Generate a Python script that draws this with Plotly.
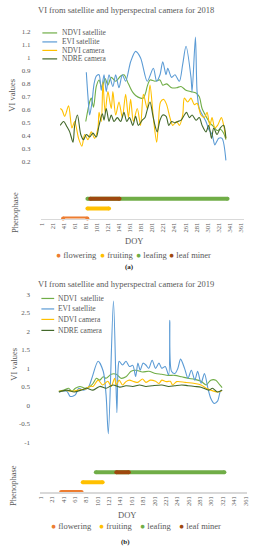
import plotly.graph_objects as go

# ---------------- data: 2018 ----------------
evi_sat_2018_doy = [82, 85, 88, 92, 96, 100, 105, 109, 114, 118, 123, 130, 135, 141, 147, 153, 162, 171, 180, 192, 203, 209, 215, 220, 226, 229, 236, 242, 250, 256, 262, 271, 273, 279, 282, 286, 298, 303, 309, 314, 318, 321, 327, 334]
evi_sat_2018 = [0.89, 0.70, 0.56, 0.65, 0.80, 0.86, 0.87, 0.75, 0.87, 0.74, 0.87, 0.78, 0.87, 0.77, 0.87, 0.82, 0.97, 1.05, 1.00, 0.82, 0.92, 0.82, 0.87, 0.97, 0.87, 0.92, 0.85, 0.87, 0.82, 0.95, 1.09, 0.85, 0.74, 1.16, 0.74, 0.61, 0.51, 0.45, 0.41, 0.33, 0.36, 0.38, 0.38, 0.21]

ndvi_sat_2018_doy = [81, 88, 91, 95, 100, 105, 110, 116, 121, 127, 135, 144, 150, 158, 165, 171, 180, 185, 189, 192, 197, 206, 215, 220, 227, 236, 245, 253, 262, 271, 280, 286, 291, 298, 305, 312, 318, 324, 330, 334]
ndvi_sat_2018 = [0.51, 0.66, 0.69, 0.62, 0.78, 0.83, 0.77, 0.84, 0.79, 0.85, 0.82, 0.86, 0.87, 0.80, 0.74, 0.71, 0.69, 0.69, 0.73, 0.78, 0.83, 0.82, 0.83, 0.79, 0.80, 0.77, 0.77, 0.78, 0.75, 0.74, 0.73, 0.70, 0.61, 0.55, 0.50, 0.47, 0.44, 0.45, 0.42, 0.37]

ndvi_cam_2018_doy = [35, 38, 43, 50, 56, 61, 68, 74, 79, 85, 91, 97, 103, 105, 109, 112, 116, 121, 127, 130, 135, 141, 147, 153, 158, 162, 167, 174, 180, 185, 192, 197, 203, 209, 212, 216, 222, 227, 233, 238, 245, 250, 256, 259, 265, 271, 277, 282, 289, 295, 300, 305, 309, 314, 319, 326, 330, 334]
ndvi_cam_2018 = [0.61, 0.60, 0.55, 0.63, 0.46, 0.51, 0.38, 0.32, 0.41, 0.37, 0.43, 0.38, 0.46, 0.58, 0.51, 0.81, 0.58, 0.74, 0.61, 0.74, 0.56, 0.66, 0.54, 0.72, 0.54, 0.68, 0.51, 0.61, 0.48, 0.72, 0.61, 0.79, 0.54, 0.35, 0.48, 0.66, 0.68, 0.64, 0.54, 0.48, 0.51, 0.48, 0.56, 0.69, 0.66, 0.69, 0.64, 0.65, 0.56, 0.54, 0.58, 0.48, 0.54, 0.46, 0.48, 0.54, 0.48, 0.38]

ndre_cam_2018_doy = [35, 41, 47, 52, 58, 61, 66, 72, 77, 82, 88, 94, 100, 105, 111, 114, 118, 123, 127, 132, 138, 144, 150, 155, 160, 166, 171, 176, 183, 188, 192, 197, 202, 206, 210, 215, 220, 226, 231, 236, 242, 247, 253, 259, 263, 268, 273, 280, 286, 291, 298, 303, 308, 312, 318, 324, 330, 334]
ndre_cam_2018 = [0.48, 0.51, 0.47, 0.43, 0.35, 0.48, 0.56, 0.41, 0.37, 0.41, 0.39, 0.42, 0.39, 0.48, 0.57, 0.52, 0.61, 0.51, 0.56, 0.51, 0.54, 0.51, 0.58, 0.51, 0.54, 0.48, 0.55, 0.48, 0.52, 0.54, 0.60, 0.66, 0.56, 0.48, 0.43, 0.52, 0.56, 0.55, 0.48, 0.51, 0.50, 0.51, 0.52, 0.56, 0.58, 0.54, 0.56, 0.52, 0.54, 0.48, 0.43, 0.48, 0.38, 0.46, 0.41, 0.46, 0.48, 0.38]

# ---------------- data: 2019 ----------------
evi_sat_2019_doy = [33, 47, 53, 62, 68, 76, 85, 91, 102, 111, 116, 120, 129, 135, 137, 139, 145, 151, 157, 163, 168, 172, 176, 181, 186, 191, 197, 203, 209, 214, 220, 226, 228, 231, 237, 242, 247, 254, 260, 266, 272, 277, 283, 289, 295, 300, 306, 312, 317, 320]
evi_sat_2019 = [0.36, 0.38, 0.24, 0.28, 0.46, 0.41, 0.49, 0.73, 1.19, 0.92, 0.28, -0.77, 2.82, -0.20, 0.95, 1.19, 1.09, 1.19, 1.05, 1.08, 0.78, 1.14, 0.95, 1.14, 1.09, 1.00, 1.22, 1.00, 1.14, 1.00, 1.05, 0.82, 2.30, 0.92, 0.86, 0.99, 1.25, 1.00, 0.73, 0.95, 0.68, 0.92, 0.60, 0.86, 0.46, 0.19, 0.05, 0.11, 0.38, 0.41]

ndvi_sat_2019_doy = [33, 42, 50, 56, 62, 70, 79, 88, 93, 99, 105, 111, 116, 125, 134, 142, 151, 160, 168, 180, 191, 203, 214, 225, 237, 249, 260, 272, 283, 292, 300, 309, 316, 320]
ndvi_sat_2019 = [0.38, 0.41, 0.46, 0.38, 0.46, 0.51, 0.46, 0.51, 0.59, 0.73, 0.68, 0.77, 0.73, 0.84, 0.84, 0.73, 0.77, 0.92, 0.95, 0.90, 0.92, 0.86, 0.84, 0.81, 0.81, 0.77, 0.73, 0.70, 0.65, 0.55, 0.68, 0.68, 0.55, 0.48]

ndvi_cam_2019_doy = [33, 45, 58, 70, 80, 88, 93, 102, 110, 119, 125, 131, 134, 139, 145, 151, 157, 165, 172, 180, 186, 194, 203, 209, 214, 222, 229, 233, 240, 255, 272, 283, 292, 300, 312, 320]
ndvi_cam_2019 = [0.38, 0.40, 0.38, 0.42, 0.44, 0.52, 0.51, 0.68, 0.55, 0.65, 0.51, 0.73, 0.55, 0.68, 0.55, 0.64, 0.68, 0.64, 0.62, 0.71, 0.62, 0.68, 0.65, 0.59, 0.68, 0.64, 0.65, 0.55, 0.64, 0.62, 0.59, 0.55, 0.46, 0.41, 0.36, 0.40]

ndre_cam_2019_doy = [33, 47, 60, 72, 82, 93, 105, 116, 128, 140, 151, 163, 175, 186, 197, 214, 226, 237, 249, 260, 272, 283, 297, 303, 312, 320]
ndre_cam_2019 = [0.36, 0.41, 0.36, 0.41, 0.46, 0.41, 0.51, 0.46, 0.55, 0.49, 0.53, 0.51, 0.55, 0.51, 0.53, 0.55, 0.51, 0.53, 0.55, 0.53, 0.51, 0.49, 0.41, 0.46, 0.36, 0.41]

# ---------------- phenophases ----------------
phases = ["flowering", "fruiting", "leafing", "leaf miner"]
phase_rows = ["flowering", "fruiting", "leafing", "leafing"]
phase_start_2018 = [40, 84, 84, 89]
phase_end_2018 = [84, 123, 337, 142]
phase_start_2019 = [37, 75, 98, 134]
phase_end_2019 = [73, 110, 324, 156]

doy_ticks = list(range(1, 362, 20))
vi_ticks_2018 = [0.2, 0.3, 0.4, 0.5, 0.6, 0.7, 0.8, 0.9, 1, 1.1, 1.2]
vi_ticks_2019 = [-1, -0.5, 0, 0.5, 1, 1.5, 2, 2.5, 3]

series_names = ["NDVI satellite", "EVI satellite", "NDVI camera", "NDRE camera"]
series_names_2019 = ["NDVI  satellite", "EVI satellite", "NDVI camera", "NDRE camera"]

# ---------------- styling ----------------
W, H = 256, 550
FONT = "Liberation Serif"
C_NDVI_SAT = "#70AD47"
C_EVI_SAT = "#5B9BD5"
C_NDVI_CAM = "#FFC000"
C_NDRE_CAM = "#43682B"
series_colors = [C_NDVI_SAT, C_EVI_SAT, C_NDVI_CAM, C_NDRE_CAM]
phase_colors = ["#ED7D31", "#FFC000", "#70AD47", "#9E480E"]
TXT = "#595959"


def px_x(p):
    return p / W


def px_y(p):
    return 1 - p / H


fig = go.Figure()


def add_lines(xa, ya, data):
    for (xs, ys), col in zip(data, series_colors):
        fig.add_trace(go.Scatter(x=xs, y=ys, mode="lines", xaxis=xa, yaxis=ya,
                                 line=dict(color=col, width=1.1, shape="spline", smoothing=0.8),
                                 showlegend=False, hoverinfo="skip"))


add_lines("x", "y", [(ndvi_sat_2018_doy, ndvi_sat_2018), (evi_sat_2018_doy, evi_sat_2018),
                     (ndvi_cam_2018_doy, ndvi_cam_2018), (ndre_cam_2018_doy, ndre_cam_2018)])
add_lines("x3", "y3", [(ndvi_sat_2019_doy, ndvi_sat_2019), (evi_sat_2019_doy, evi_sat_2019),
                       (ndvi_cam_2019_doy, ndvi_cam_2019), (ndre_cam_2019_doy, ndre_cam_2019)])


def add_phases(xa, ya, starts, ends):
    for name, row, s, e, col in zip(phases, phase_rows, starts, ends, phase_colors):
        fig.add_trace(go.Scatter(x=[s, e], y=[row, row], mode="lines+markers", xaxis=xa, yaxis=ya,
                                 line=dict(color=col, width=4),
                                 marker=dict(color=col, size=4),
                                 cliponaxis=False, showlegend=False, hoverinfo="skip"))


add_phases("x2", "y2", phase_start_2018, phase_end_2018)
add_phases("x4", "y4", phase_start_2019, phase_end_2019)

top_x_dom = [px_x(38.5), px_x(245)]
bot_x_dom = [px_x(37.1), px_x(248)]

tickfont = dict(family=FONT, size=7, color=TXT)

fig.update_layout(
    width=W, height=H, autosize=False,
    margin=dict(l=0, r=0, t=0, b=0),
    paper_bgcolor="white", plot_bgcolor="white",
    font=dict(family=FONT, color=TXT),
    showlegend=False,
    xaxis=dict(domain=top_x_dom, range=[0, 367], visible=False, anchor="y"),
    yaxis=dict(domain=[px_y(168.5), px_y(25.5)], range=[0.15, 1.25], anchor="x",
               tickvals=vi_ticks_2018, ticktext=[str(v) for v in vi_ticks_2018],
               showgrid=False, zeroline=False, showline=False,
               ticks="outside", ticklen=8, tickcolor="rgba(0,0,0,0)", tickfont=tickfont),
    xaxis2=dict(domain=top_x_dom, range=[0, 367], anchor="y2",
                tickvals=doy_ticks, ticktext=[str(v) for v in doy_ticks], tickangle=-90,
                showline=True, linecolor="#D9D9D9", linewidth=1.5, showgrid=False, zeroline=False,
                ticks="", tickfont=dict(family=FONT, size=6.5, color=TXT)),
    yaxis2=dict(domain=[px_y(219), px_y(185)], range=[0, 3.4], anchor="x2", type="category",
                categoryorder="array", categoryarray=["flowering", "fruiting", "leafing"],
                visible=False),
    xaxis3=dict(domain=bot_x_dom, range=[-1, 364], visible=False, anchor="y3"),
    yaxis3=dict(domain=[px_y(446.7), px_y(291.3)], range=[-1.1, 3.1], anchor="x3",
                tickvals=vi_ticks_2019, ticktext=[str(v) for v in vi_ticks_2019],
                showgrid=False, zeroline=False, showline=False,
                ticks="outside", ticklen=7, tickcolor="rgba(0,0,0,0)", tickfont=tickfont),
    xaxis4=dict(domain=bot_x_dom, range=[-1, 364], anchor="y4",
                tickvals=doy_ticks, ticktext=[str(v) for v in doy_ticks], tickangle=-90,
                showline=True, linecolor="#D9D9D9", linewidth=1.5, showgrid=False, zeroline=False,
                ticks="", tickfont=dict(family=FONT, size=6.5, color=TXT)),
    yaxis4=dict(domain=[px_y(493), px_y(459)], range=[0, 3.4], anchor="x4", type="category",
                categoryorder="array", categoryarray=["flowering", "fruiting", "leafing"],
                visible=False),
)

ann = []


def text(t, x, y, size, xanchor="center", angle=0, color=TXT, bold=False):
    ann.append(dict(text=("<b>%s</b>" % t) if bold else t, x=px_x(x), y=px_y(y),
                    xref="paper", yref="paper", showarrow=False, xanchor=xanchor, yanchor="middle",
                    textangle=angle, font=dict(family=FONT, size=size, color=color)))


text("VI from satellite and hyperspectral camera for 2018", 125, 10, 8.5)
text("VI from satellite and hyperspectral camera for 2019", 124.5, 285, 8.5)
text("VI values", 9, 95, 8.5, angle=-90)
text("VI values", 11.5, 365, 8.5, angle=-90)
text("Phenophase", 11.5, 213, 8.5, angle=-90)
text("Phenophase", 10, 486, 8.5, angle=-90)
text("DOY", 133, 241, 8.5)
text("DOY", 126, 516, 8.5)
text("(a)", 128, 267, 7, color="#222222", bold=True)
text("(b)", 124, 543, 7, color="#222222", bold=True)

shapes = []
for i, (nm, col) in enumerate(zip(series_names, series_colors)):
    yy = [33, 42, 50.5, 59][i]
    shapes.append(dict(type="line", xref="paper", yref="paper", x0=px_x(40), x1=px_x(55),
                       y0=px_y(yy), y1=px_y(yy), line=dict(color=col, width=1.2)))
    text(nm, 58, yy, 7.5, xanchor="left")
for i, (nm, col) in enumerate(zip(series_names_2019, series_colors)):
    yy = [299, 309.5, 320, 331][i]
    shapes.append(dict(type="line", xref="paper", yref="paper", x0=px_x(39), x1=px_x(52),
                       y0=px_y(yy), y1=px_y(yy), line=dict(color=col, width=1.2)))
    text(nm, 54, yy, 7.5, xanchor="left")

for nm, col, x0 in zip(phases, phase_colors, [52, 97, 133, 167]):
    text('<span style="color:%s">●</span> %s' % (col, nm), x0, 255, 8.5, xanchor="left")
for nm, col, x0 in zip(phases, phase_colors, [47, 95, 137, 177]):
    text('<span style="color:%s">●</span> %s' % (col, nm), x0, 527, 8.5, xanchor="left")

fig.update_layout(annotations=ann, shapes=shapes)
fig.write_html("out.html", config={"displayModeBar": False, "staticPlot": True},
               post_script="document.body.style.margin='0';")
